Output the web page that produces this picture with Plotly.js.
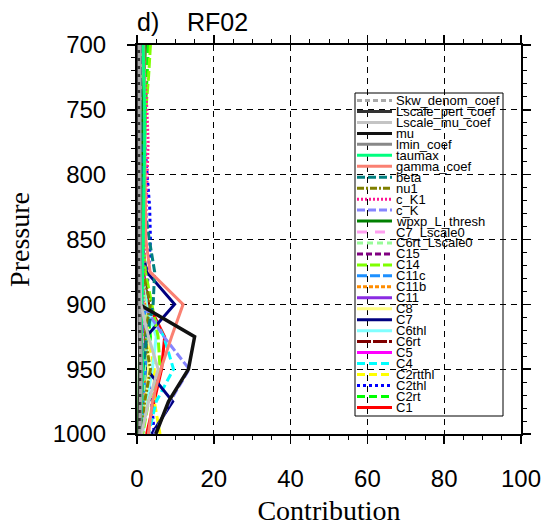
<!DOCTYPE html>
<html>
<head>
<meta charset="utf-8">
<script src="https://cdn.plot.ly/plotly-3.0.1.min.js"></script>
<style>
  html, body { margin: 0; padding: 0; background: #ffffff; }
  #chart { width: 548px; height: 526px; }
</style>
</head>
<body>
<div id="chart"></div>
<script>
// Pressure levels (hPa)
const pressure = [700, 725, 750, 775, 800, 825, 850, 875, 900, 925, 950, 975, 1000];

// Contribution of each parameter at every level
const skwDenomCoef   = [0.6, 0.6, 0.6, 0.6, 0.6, 0.6, 0.6, 0.6, 0.7, 0.8, 1.0, 0.9, 0.7];
const lscalePertCoef = [0.4, 0.4, 0.4, 0.4, 0.4, 0.4, 0.4, 0.4, 0.5, 0.6, 0.7, 0.6, 0.5];
const lscaleMuCoef   = [0.5, 0.5, 0.5, 0.5, 0.5, 0.5, 0.6, 0.7, 1.0, 3.0, 5.5, 3.0, 1.2];
const mu             = [0.3, 0.3, 0.3, 0.3, 0.3, 0.3, 0.4, 0.5, 0.5, 15.0, 13.4, 8.2, 4.9];
const lminCoef       = [0.8, 0.8, 0.8, 0.8, 0.8, 0.8, 0.8, 0.8, 0.9, 1.0, 1.2, 1.0, 0.8];
const taumax         = [1.6, 1.8, 2.0, 2.0, 1.9, 1.8, 1.7, 1.5, 1.3, 1.2, 1.5, 1.2, 0.8];
const gammaCoef      = [1.8, 1.9, 2.0, 2.1, 2.2, 2.3, 2.3, 3.4, 12.0, 9.0, 6.2, 4.0, 3.0];
const beta           = [0.8, 0.9, 1.0, 1.1, 1.4, 2.0, 3.2, 4.6, 4.2, 2.5, 1.6, 1.2, 0.9];
const nu1            = [0.5, 0.5, 0.6, 0.6, 0.7, 0.8, 1.0, 1.5, 3.5, 2.0, 3.5, 2.0, 1.0];
const cK1            = [1.5, 2.0, 2.6, 2.9, 2.7, 2.4, 2.0, 1.8, 1.5, 1.2, 1.0, 0.8, 0.6];
const cK             = [0.5, 0.5, 0.5, 0.5, 0.5, 0.6, 0.7, 1.0, 1.5, 7.0, 13.6, 8.6, 4.5];
const wpxpLThresh    = [2.2, 1.8, 1.5, 1.3, 1.2, 1.1, 1.0, 0.9, 0.8, 0.7, 0.6, 0.5, 0.4];
const c7Lscale0      = [0.8, 0.8, 0.8, 0.8, 0.8, 0.9, 1.0, 1.2, 1.5, 1.5, 1.4, 1.2, 1.0];
const c6rtLscale0    = [1.2, 1.2, 1.2, 1.2, 1.2, 1.2, 1.3, 1.5, 2.0, 2.5, 2.0, 1.5, 1.2];
const c15            = [0.5, 0.5, 0.5, 0.5, 0.5, 0.5, 0.5, 0.6, 0.8, 1.0, 1.2, 1.0, 0.8];
const c14            = [3.5, 3.0, 2.3, 1.9, 1.7, 1.6, 1.6, 2.2, 3.8, 5.5, 6.0, 3.0, 1.5];
const c11c           = [0.8, 0.8, 0.8, 0.8, 0.8, 0.9, 1.0, 1.2, 1.8, 2.5, 2.2, 1.6, 1.2];
const c11b           = [0.7, 0.7, 0.7, 0.7, 0.7, 0.8, 0.9, 1.2, 2.0, 2.5, 2.0, 1.0, 0.8];
const c11            = [0.6, 0.6, 0.6, 0.6, 0.6, 0.6, 0.7, 0.9, 1.2, 1.5, 1.3, 1.0, 0.8];
const c8             = [1.0, 1.0, 1.0, 1.0, 1.0, 1.0, 1.1, 1.3, 2.0, 2.8, 3.0, 2.0, 1.2];
const c7             = [0.9, 0.9, 0.9, 0.9, 0.9, 0.9, 1.0, 2.5, 9.8, 2.4, 2.5, 9.3, 3.8];
const c6thl          = [1.0, 1.0, 1.0, 1.0, 1.0, 1.0, 1.1, 1.4, 2.5, 5.0, 4.0, 2.5, 1.5];
const c6rt           = [0.6, 0.6, 0.6, 0.6, 0.6, 0.7, 0.9, 1.5, 3.0, 2.0, 2.5, 2.0, 1.0];
const c5             = [0.7, 0.7, 0.7, 0.7, 0.8, 1.0, 1.5, 2.0, 1.5, 1.2, 1.6, 1.4, 1.0];
const c4             = [0.8, 0.8, 0.8, 0.8, 0.8, 0.9, 1.0, 1.3, 2.5, 7.0, 9.5, 5.0, 3.0];
const c2rtthl        = [1.0, 1.0, 1.0, 1.0, 1.0, 1.0, 1.1, 1.3, 2.0, 3.0, 4.5, 4.5, 6.0];
const c2thl          = [1.0, 1.2, 1.5, 2.0, 2.6, 3.3, 3.5, 3.0, 2.2, 1.8, 2.6, 3.8, 4.5];
const c2rt           = [3.0, 2.6, 2.2, 2.0, 1.8, 1.7, 1.6, 1.8, 2.6, 3.5, 2.6, 1.8, 1.2];
const c1             = [0.8, 0.8, 0.8, 0.8, 0.8, 0.9, 1.0, 1.2, 3.0, 7.2, 6.4, 4.5, 2.5];

// Legend labels, top to bottom
const labels = ["Skw_denom_coef", "Lscale_pert_coef", "Lscale_mu_coef", "mu", "lmin_coef",
  "taumax", "gamma_coef", "beta", "nu1", "c_K1", "c_K", "wpxp_L_thresh", "C7_Lscale0",
  "C6rt_Lscale0", "C15", "C14", "C11c", "C11b", "C11", "C8", "C7", "C6thl", "C6rt", "C5",
  "C4", "C2rtthl", "C2thl", "C2rt", "C1"];

const values = [skwDenomCoef, lscalePertCoef, lscaleMuCoef, mu, lminCoef, taumax, gammaCoef,
  beta, nu1, cK1, cK, wpxpLThresh, c7Lscale0, c6rtLscale0, c15, c14, c11c, c11b, c11, c8,
  c7, c6thl, c6rt, c5, c4, c2rtthl, c2thl, c2rt, c1];

// Line styles, same order as the labels
const styles = [
  { color: "#a8a8a8", dash: "5px,3px" },
  { color: "#333333", dash: "solid" },
  { color: "#c4c4c4", dash: "solid" },
  { color: "#111111", dash: "solid", width: 3.5 },
  { color: "#888888", dash: "solid" },
  { color: "#00ff7f", dash: "solid" },
  { color: "#fa8072", dash: "solid" },
  { color: "#008080", dash: "8px,3px" },
  { color: "#808000", dash: "7px,2px,2px,2px" },
  { color: "#ff1493", dash: "2px,2px" },
  { color: "#8585ff", dash: "8px,3px" },
  { color: "#008000", dash: "solid" },
  { color: "#ff9ff0", dash: "10px,8px" },
  { color: "#98fb98", dash: "6px,4px" },
  { color: "#800080", dash: "6px,3px" },
  { color: "#7fff00", dash: "10px,3px" },
  { color: "#1e90ff", dash: "10px,3px" },
  { color: "#ff8c00", dash: "4px,2px" },
  { color: "#8a2be2", dash: "solid" },
  { color: "#ffff80", dash: "solid" },
  { color: "#000080", dash: "solid" },
  { color: "#80ffff", dash: "solid" },
  { color: "#800000", dash: "14px,2px" },
  { color: "#ff00ff", dash: "solid" },
  { color: "#00ffff", dash: "8px,4px" },
  { color: "#ffff00", dash: "8px,4px" },
  { color: "#0000ff", dash: "3px,3px" },
  { color: "#00ff00", dash: "8px,4px" },
  { color: "#ff0000", dash: "solid" }
];

// Bottom legend entry is drawn first so the top entries sit on top
const traces = [];
for (let i = labels.length - 1; i >= 0; i--) {
  traces.push({
    type: "scatter",
    mode: "lines",
    name: labels[i],
    x: values[i],
    y: pressure,
    showlegend: false,
    line: { color: styles[i].color, dash: styles[i].dash, width: styles[i].width || 3 }
  });
}

// Plot area in pixels, used to place the hand-built legend in paper units
const plotLeft = 137, plotRight = 521, plotTop = 45, plotBottom = 434;
const px = v => (v - plotLeft) / (plotRight - plotLeft);
const py = v => (plotBottom - v) / (plotBottom - plotTop);

const shapes = [{
  type: "rect", xref: "paper", yref: "paper", layer: "above",
  x0: px(355), x1: px(503), y0: py(416), y1: py(93),
  line: { color: "#000000", width: 1 }, fillcolor: "rgba(0,0,0,0)"
}];
const annotations = [];
const rowTop = 100.5, rowStep = 10.96;
labels.forEach((lab, i) => {
  const yRow = rowTop + rowStep * i;
  shapes.push({
    type: "line", xref: "paper", yref: "paper", layer: "above",
    x0: px(357), x1: px(392), y0: py(yRow), y1: py(yRow),
    line: { color: styles[i].color, dash: styles[i].dash, width: 3 }
  });
  annotations.push({
    xref: "paper", yref: "paper", x: px(393.5), y: py(yRow),
    xanchor: "left", yanchor: "middle", showarrow: false,
    text: lab, font: { family: "Liberation Sans, Arial, sans-serif", size: 13, color: "#000000" }
  });
});

const axisCommon = {
  showline: true, linecolor: "#000000", linewidth: 2, mirror: "ticks",
  ticks: "outside", ticklen: 8, tickwidth: 1.5, tickcolor: "#000000",
  showgrid: true, gridcolor: "#000000", gridwidth: 1, griddash: "6px,5px",
  zeroline: false,
  tickfont: { family: "Liberation Sans, Arial, sans-serif", size: 24, color: "#000000" }
};

const layout = {
  width: 548, height: 526,
  margin: { l: plotLeft, r: 548 - plotRight, t: plotTop, b: 526 - plotBottom, pad: 0 },
  paper_bgcolor: "#ffffff", plot_bgcolor: "#ffffff",
  showlegend: false,
  title: {
    text: "d)\u00a0\u00a0\u00a0\u00a0RF02",
    font: { family: "Liberation Sans, Arial, sans-serif", size: 25, color: "#000000" },
    x: 0, xref: "paper", xanchor: "left",
    y: 1 - 22 / 526, yref: "container", yanchor: "middle"
  },
  xaxis: Object.assign({}, axisCommon, {
    range: [0, 100], tick0: 0, dtick: 20,
    ticklabelstandoff: 14,
    minor: { dtick: 5, ticks: "outside", ticklen: 4, tickwidth: 1, tickcolor: "#000000", showgrid: false },
    title: { text: "Contribution", standoff: 14,
      font: { family: "Liberation Serif, Times New Roman, serif", size: 28, color: "#000000" } }
  }),
  yaxis: Object.assign({}, axisCommon, {
    range: [1000, 700], tick0: 700, dtick: 50,
    ticklabelstandoff: 16,
    minor: { dtick: 10, ticks: "outside", ticklen: 4, tickwidth: 1, tickcolor: "#000000", showgrid: false },
    title: { text: "Pressure", standoff: 15,
      font: { family: "Liberation Serif, Times New Roman, serif", size: 28, color: "#000000" } }
  }),
  shapes: shapes,
  annotations: annotations
};

Plotly.newPlot("chart", traces, layout, { displayModeBar: false, staticPlot: true });
</script>
</body>
</html>
